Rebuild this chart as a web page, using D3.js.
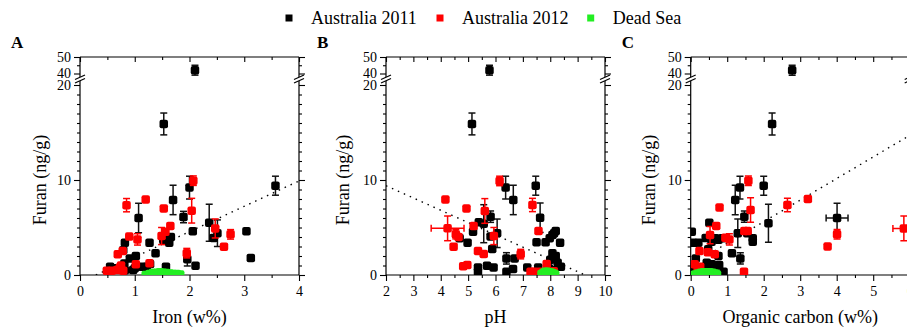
<!DOCTYPE html>
<html><head><meta charset="utf-8">
<script src="https://cdn.jsdelivr.net/npm/d3@7"></script>
<style>
body{margin:0;background:#fff}
svg{display:block}
text{font-family:"Liberation Serif","DejaVu Serif",serif;fill:#000}
</style>
</head><body>
<svg id="chart" width="907" height="331"></svg>
<script>
// ---- categories / legend ----
const seriesNames = ["Australia 2011", "Australia 2012", "Dead Sea"];
const seriesColors = ["#000000", "#ff0000", "#22ee22"];
const panelLetters = ["A", "B", "C"];
const xTitles = ["Iron (w%)", "pH", "Organic carbon (w%)"];
const yTitle = "Furan (ng/g)";
const xTickA = [0, 1, 2, 3, 4];
const xTickB = [2, 3, 4, 5, 6, 7, 8, 9, 10];
const xTickC = [0, 1, 2, 3, 4, 5, 6];
const yTickLow = [0, 10, 20];
const yTickHigh = [40, 50];

// ---- data: [x, furan, yErr, xErr] ----
const ironAus2011 = [[2.10,42,3],[1.53,15.9,1.15],[3.57,9.4,1.0],[2.0,9.2,1.2],[1.70,7.9,1.55],[1.07,6.0,1.55],[1.89,6.1,0.6],[2.36,5.5,1.95],[2.51,4.4,1.4],[2.44,3.9],[2.06,4.6],[3.04,4.6],[1.66,4.0],[1.61,3.75],[1.63,3.4],[1.52,3.7,0.4],[1.27,3.4],[0.82,3.4],[0.79,2.6],[1.38,2.3],[1.02,2.0],[0.91,1.75],[1.96,1.65,0.7],[3.12,1.8],[2.11,0.98],[1.57,0.87],[1.28,1.15],[1.22,0.87],[1.13,0.87],[1.0,0.7],[0.81,1.2],[0.55,0.87],[0.61,0.7],[0.97,0.53],[0.82,0.5]];
const ironAus2012 = [[0.85,7.35,0.7],[1.2,7.96],[1.53,7.0],[2.07,9.93,0.5],[2.04,6.77,1.3],[1.05,3.75,0.6],[0.9,4.04],[1.65,5.16],[1.56,4.56],[1.49,4.1,0.9],[2.47,4.9,1.0],[2.75,4.28,0.5],[2.63,2.98],[1.95,2.3,0.5],[0.78,2.53],[0.69,2.18],[1.02,1.12],[1.27,1.23],[0.73,0.8],[0.68,0.53],[0.49,0.45],[0.58,0.45],[0.79,0.45],[0.75,1.0]];
const ironDeadSea = [[1.2,0.0],[1.27,0.1],[1.33,0.2],[1.4,0.25],[1.46,0.3],[1.52,0.25],[1.58,0.2],[1.64,0.15],[1.7,0.1],[1.77,0.1],[1.83,0.05],[1.36,0.05],[1.5,0.05],[1.62,0.0]];

const phAus2011 = [[5.78,42,3],[5.14,15.9,1.15],[6.37,9.2,1.2],[7.47,9.4,1.0],[6.65,7.9,1.55],[7.63,6.03,1.55],[5.82,6.14,0.6],[5.57,5.4,2.0],[5.39,5.54],[5.18,4.56],[6.06,4.39,1.5],[5.82,4.04],[4.69,3.86],[4.98,3.4],[5.88,2.74],[7.5,3.44],[7.83,3.44],[8.36,3.4],[8.2,4.63],[8.08,4.2],[7.98,3.86],[8.14,4.39],[6.4,1.75,0.6],[6.7,1.75],[8.08,2.28],[8.2,2.0],[8.27,1.3],[8.39,0.87],[8.0,1.6],[5.36,0.8],[5.36,0.35],[5.69,0.98],[5.93,0.8],[6.4,0.35],[6.64,0.63],[7.16,0.8],[7.56,0.8],[7.95,0.7],[8.16,0.5]];
const phAus2012 = [[4.17,7.96],[4.94,7.0],[6.15,9.9,0.5],[5.61,6.74,1.3],[7.35,7.37,0.7],[7.57,4.63],[4.25,4.91,1.3,0.6],[4.55,4.3,0.5],[4.65,4.0],[5.2,5.16],[5.94,4.1,0.9],[4.47,2.98],[5.36,2.53],[5.57,2.2],[6.92,2.2,0.5],[4.82,0.93],[4.97,1.05],[7.87,1.16],[7.42,0.35],[7.64,0.35],[8.13,0.4],[7.28,0.35]];
const phDeadSea = [[7.68,0.1],[7.75,0.25],[7.82,0.35],[7.9,0.35],[7.98,0.3],[8.05,0.25],[8.12,0.15],[8.18,0.05],[7.85,0.05],[8.0,0.05]];

const ocAus2011 = [[2.78,42,3],[2.23,15.9,1.15],[2.0,9.4,1.0],[1.35,9.2,1.2],[1.22,7.9,1.55],[4.01,6.0,1.55,0.3],[1.47,6.14,0.6],[2.13,5.44,2.0],[0.51,5.5],[0.03,4.56],[1.29,4.39,1.5],[1.55,4.4],[1.7,3.86],[1.7,3.5],[0.41,3.9],[0.67,3.86],[0.76,3.7],[0.86,3.86],[0.07,3.4],[0.21,3.4],[0.57,3.5],[0.48,2.7],[1.13,2.28],[1.36,1.75,0.6],[0.14,1.75],[0.76,2.0],[0.44,1.3],[0.58,1.12],[0.78,1.05],[0.41,0.87],[0.03,0.87],[0.9,0.35],[0.67,0.5]];
const ocAus2012 = [[1.58,9.93,0.5],[0.79,7.1],[1.64,6.84,1.3],[2.65,7.37,0.7],[3.21,8.0],[0.7,5.16],[0.53,4.2,0.9],[1.47,4.63],[1.56,4.63],[0.95,3.93],[1.06,3.75,0.6],[4.01,4.28,0.5],[3.75,3.0],[5.84,4.9,1.3,0.3],[0.24,2.53],[0.66,2.18],[0.47,2.4],[1.46,0.35],[0.11,1.12],[0.26,0.87],[0.19,0.53]];
const ocDeadSea = [[0.12,0.05],[0.2,0.15],[0.28,0.25],[0.36,0.3],[0.44,0.3],[0.52,0.3],[0.6,0.25],[0.68,0.15],[0.72,0.05],[0.3,0.05],[0.5,0.05]];

// ---- dotted trend lines (end points) ----
const ironTrend = [[0.29,0],[4,9.9]];
const phTrend = [[2,9.4],[9.27,0]];
const ocTrend = [[0.5,2.2],[6,14.7]];

// ---- layout ----
const svg = d3.select("#chart");
const W = 219, yBottom = 275, yTop = 57, breakY = 79;
const yLow = d3.scaleLinear().domain([0, 20]).range([275, 85]);
const yHigh = d3.scaleLinear().domain([40, 50]).range([73.5, 57]);
const yOf = v => v >= 30 ? yHigh(v) : yLow(v);
const yScaleOf = v => v >= 30 ? yHigh : yLow;

const panels = [
  {left: 80, dom: [0, 4], ticks: xTickA, data: [ironAus2011, ironAus2012, ironDeadSea], trend: ironTrend, titleOff: 34},
  {left: 386, dom: [2, 10], ticks: xTickB, data: [phAus2011, phAus2012, phDeadSea], trend: phTrend, titleOff: 37},
  {left: 690.7, dom: [0, 6], ticks: xTickC, data: [ocAus2011, ocAus2012, ocDeadSea], trend: ocTrend, titleOff: 36}
];

const halfSteps = (d0, d1) => d3.range(d0, d1 + 0.001, 0.5);

panels.forEach((p, i) => {
  const x = d3.scaleLinear().domain(p.dom).range([p.left, p.left + W]);
  const g = svg.append("g");
  const R = p.left + W;

  // ticks with d3 axes
  const minorX = halfSteps(p.dom[0], p.dom[1]).filter(v => !p.ticks.includes(v));
  const clean = a => a.call(s => s.select(".domain").remove()).call(s => s.selectAll("line").attr("stroke", "#000").attr("stroke-width", 1.1));
  g.append("g").attr("transform", `translate(0,${yBottom})`)
    .call(d3.axisBottom(x).tickValues(p.ticks).tickSize(6).tickPadding(5).tickFormat(d3.format("d")))
    .call(clean).call(s => s.selectAll("text").attr("font-size", 14).attr("font-family", "Liberation Serif"));
  g.append("g").attr("transform", `translate(0,${yBottom})`)
    .call(d3.axisBottom(x).tickValues(minorX).tickSize(3).tickFormat("")).call(clean);
  g.append("g").attr("transform", `translate(0,${yTop})`)
    .call(d3.axisBottom(x).tickValues(p.ticks).tickSize(5).tickFormat("")).call(clean);
  g.append("g").attr("transform", `translate(0,${yTop})`)
    .call(d3.axisBottom(x).tickValues(minorX).tickSize(3).tickFormat("")).call(clean);

  const minorYLow = d3.range(1, 20).filter(v => v !== 10);
  [[p.left, d3.axisLeft, true], [R, d3.axisLeft, false]].forEach(([ax, fn, outward]) => {
    const sgn = outward ? 1 : -1;
    g.append("g").attr("transform", `translate(${ax},0)`)
      .call(fn(yLow).tickValues(yTickLow).tickSize(6 * sgn).tickPadding(outward ? 3 : 0).tickFormat(outward ? d3.format("d") : ""))
      .call(clean).call(s => s.selectAll("text").attr("font-size", 14).attr("font-family", "Liberation Serif"));
    g.append("g").attr("transform", `translate(${ax},0)`)
      .call(fn(yLow).tickValues(minorYLow).tickSize(3 * sgn).tickFormat("")).call(clean);
    g.append("g").attr("transform", `translate(${ax},0)`)
      .call(fn(yHigh).tickValues(yTickHigh).tickSize(6 * sgn).tickPadding(outward ? 3 : 0).tickFormat(outward ? d3.format("d") : ""))
      .call(clean).call(s => s.selectAll("text").attr("font-size", 14).attr("font-family", "Liberation Serif"));
    g.append("g").attr("transform", `translate(${ax},0)`)
      .call(fn(yHigh).tickValues([45]).tickSize(3 * sgn).tickFormat("")).call(clean);
  });

  // frame
  const fr = g.append("g").attr("stroke", "#000").attr("stroke-width", 1.2).attr("fill", "none");
  fr.append("line").attr("x1", p.left).attr("x2", R).attr("y1", yBottom).attr("y2", yBottom);
  fr.append("line").attr("x1", p.left).attr("x2", R).attr("y1", yTop).attr("y2", yTop);
  [p.left, R].forEach(ax => {
    fr.append("line").attr("x1", ax).attr("x2", ax).attr("y1", yBottom).attr("y2", breakY + 2);
    fr.append("line").attr("x1", ax).attr("x2", ax).attr("y1", breakY - 2).attr("y2", yTop);
    fr.append("line").attr("x1", ax - 5).attr("x2", ax + 5).attr("y1", breakY + 4).attr("y2", breakY - 0.5);
    fr.append("line").attr("x1", ax - 5).attr("x2", ax + 5).attr("y1", breakY + 0.5).attr("y2", breakY - 4);
  });

  // clip
  const cid = "clip" + i;
  svg.append("clipPath").attr("id", cid).append("rect")
    .attr("x", p.left).attr("y", 50).attr("width", W).attr("height", yBottom - 50);
  const plot = g.append("g").attr("clip-path", `url(#${cid})`);

  // trend
  plot.append("path")
    .attr("d", d3.line().x(d => x(d[0])).y(d => yLow(d[1]))(p.trend))
    .attr("stroke", "#000").attr("stroke-width", 1.4).attr("stroke-dasharray", "1.5,5").attr("fill", "none");

  // series
  p.data.forEach((arr, si) => {
    const col = seriesColors[si];
    const barCol = si === 0 ? "#111" : col;
    const sg = plot.append("g");
    arr.forEach(d => {
      const ys = yScaleOf(d[1]);
      if (d[2]) {
        sg.append("line").attr("x1", x(d[0])).attr("x2", x(d[0]))
          .attr("y1", ys(d[1] - d[2])).attr("y2", ys(d[1] + d[2]))
          .attr("stroke", barCol).attr("stroke-width", 1.5);
        [d[1] - d[2], d[1] + d[2]].forEach(v => sg.append("line")
          .attr("x1", x(d[0]) - 3.5).attr("x2", x(d[0]) + 3.5).attr("y1", ys(v)).attr("y2", ys(v))
          .attr("stroke", barCol).attr("stroke-width", 1.5));
      }
      if (d[3]) {
        sg.append("line").attr("x1", x(d[0] - d[3])).attr("x2", x(d[0] + d[3]))
          .attr("y1", ys(d[1])).attr("y2", ys(d[1]))
          .attr("stroke", barCol).attr("stroke-width", 1.5);
        [d[0] - d[3], d[0] + d[3]].forEach(v => sg.append("line")
          .attr("x1", x(v)).attr("x2", x(v)).attr("y1", ys(d[1]) - 3.5).attr("y2", ys(d[1]) + 3.5)
          .attr("stroke", barCol).attr("stroke-width", 1.5));
      }
    });
    sg.selectAll("rect.pt").data(arr).join("rect").attr("class", "pt")
      .attr("x", d => x(d[0]) - 4.25).attr("y", d => yOf(d[1]) - 4.25)
      .attr("width", 8.5).attr("height", 8.5).attr("rx", 2).attr("fill", col);
  });

  // titles
  svg.append("text").attr("x", p.left + W / 2).attr("y", 323).attr("text-anchor", "middle")
    .attr("font-size", 18).text(xTitles[i]);
  svg.append("text").attr("transform", `translate(${p.left - p.titleOff},180) rotate(-90)`)
    .attr("text-anchor", "middle").attr("font-size", 18).text(yTitle);
  svg.append("text").attr("x", p.left - 69).attr("y", 48).attr("font-size", 17)
    .attr("font-weight", "bold").text(panelLetters[i]);
});

// legend
const legX = [289, 440, 590.7];
seriesNames.forEach((n, i) => {
  svg.append("rect").attr("x", legX[i] - 3.5).attr("y", 14.5).attr("width", 7).attr("height", 7).attr("fill", seriesColors[i]);
  svg.append("text").attr("x", legX[i] + 22).attr("y", 24).attr("font-size", 18).text(n);
});
</script>
</body></html>
